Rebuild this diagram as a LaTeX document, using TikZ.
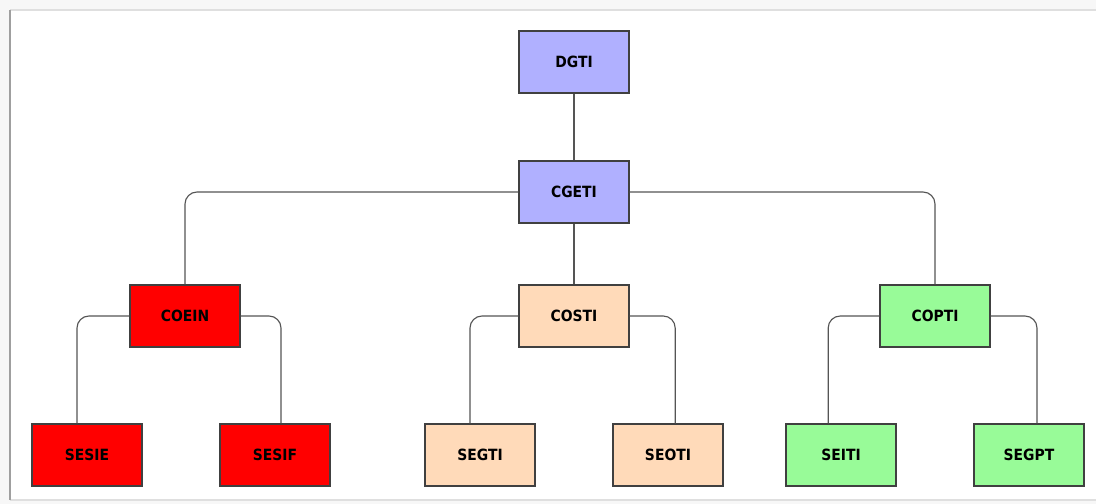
\documentclass[tikz,border=0pt]{standalone}
\usepackage{fontspec}
\newfontfamily\orgfont{DejaVu Sans Condensed}
\usetikzlibrary{positioning}

\definecolor{dirblue}{RGB}{176,176,255}
\definecolor{coeinred}{RGB}{255,0,0}
\definecolor{costipeach}{RGB}{255,218,185}
\definecolor{coptigreen}{RGB}{152,251,152}
\definecolor{boxline}{RGB}{64,64,64}
\definecolor{linkline}{RGB}{85,85,85}

\tikzset{
    unit/.style={draw=boxline, line width=0.9pt, minimum width=2.75cm, minimum height=1.55cm,
        inner sep=0pt, font=\orgfont\fontsize{11}{13}\selectfont\bfseries, text=black},
    link/.style={draw=linkline, line width=0.8pt, rounded corners=0.3cm}
}

\begin{document}
\begin{tikzpicture}[x=0.025cm, y=-0.025cm]

    \useasboundingbox (0,0) rectangle (1096,504);
    \fill[gray!6] (0,0) rectangle (1096,504);
    \fill[white] (10,10) rectangle (1096,500);
    \draw[gray!25, line width=1pt] (1096,10) -- (10,10);
    \draw[gray!25, line width=1pt] (10,500) -- (1096,500);
    \draw[gray!75, line width=1.2pt] (10,10) -- (10,500);

    \node[unit, fill=dirblue] (dgti) at (574,62) {DGTI};
    \node[unit, fill=dirblue] (cgeti) at (574,192) {CGETI};

    \node[unit, fill=coeinred] (coein) at (185,316) {COEIN};
    \node[unit, fill=costipeach] (costi) at (574,316) {COSTI};
    \node[unit, fill=coptigreen] (copti) at (935,316) {COPTI};

    \node[unit, fill=coeinred] (sesie) at (87,455) {SESIE};
    \node[unit, fill=coeinred] (sesif) at (275,455) {SESIF};
    \node[unit, fill=costipeach] (segti) at (480,455) {SEGTI};
    \node[unit, fill=costipeach] (seoti) at (668,455) {SEOTI};
    \node[unit, fill=coptigreen] (seiti) at (841,455) {SEITI};
    \node[unit, fill=coptigreen] (segpt) at (1029,455) {SEGPT};

    \draw[link] (dgti) -- (cgeti);
    \draw[link] (cgeti) -- (costi);
    \draw[link] (cgeti.west) -| (coein.north);
    \draw[link] (cgeti.east) -| (copti.north);

    \draw[link] (coein.west) -| ([xshift=-0.25cm]sesie.north);
    \draw[link] (coein.east) -| ([xshift=0.15cm]sesif.north);
    \draw[link] (costi.west) -| ([xshift=-0.25cm]segti.north);
    \draw[link] (costi.east) -| ([xshift=0.18cm]seoti.north);
    \draw[link] (copti.west) -| ([xshift=-0.32cm]seiti.north);
    \draw[link] (copti.east) -| ([xshift=0.2cm]segpt.north);

\end{tikzpicture}
\end{document}
